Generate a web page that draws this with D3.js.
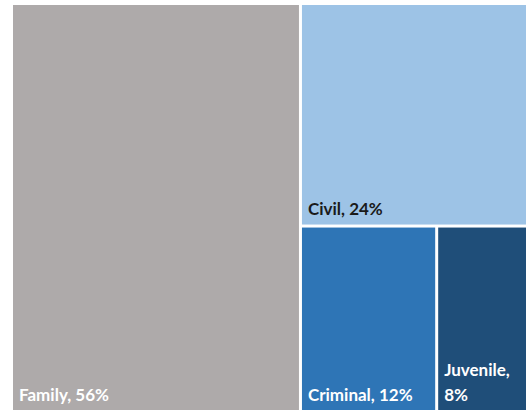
<!DOCTYPE html>
<html>
<head>
<meta charset="utf-8">
<script src="https://cdn.jsdelivr.net/npm/d3@7"></script>
<style>
  body { margin: 0; background: #fff; }
  svg text { font-family: Lato, "Open Sans", sans-serif; font-weight: bold; }
</style>
</head>
<body>
<div id="chart"></div>
<script>
var categories = ["Family", "Civil", "Criminal", "Juvenile"];
var shares = [56, 24, 12, 8];
var fills = ["#AEAAAA", "#9DC3E6", "#2E75B6", "#1F4E79"];
var textColors = ["#ffffff", "#1a1a1a", "#ffffff", "#ffffff"];
// juvenile label wraps onto two lines like the original
var labelLines = [["Family, 56%"], ["Civil, 24%"], ["Criminal, 12%"], ["Juvenile,", "8%"]];

var width = 530, height = 410;
var padLeft = 13, padTop = 5;

var svg = d3.select("#chart").append("svg")
    .attr("width", width)
    .attr("height", height);

function leaf(i){ return {name: categories[i], value: shares[i], idx: i}; }

// nesting reproduces the Excel layout: family | (civil / (criminal | juvenile))
var tree = {children: [
    leaf(0),
    {children: [leaf(1), {children: [leaf(2), leaf(3)]}]}
]};

var root = d3.hierarchy(tree)
    .sum(function(d){ return d.value || 0; });

d3.treemap()
    .tile(d3.treemapSliceDice)
    .size([526 - padLeft, 410 - padTop])
    .paddingInner(3)
    .round(false)(root);

var g = svg.append("g")
    .attr("transform", "translate(" + padLeft + "," + padTop + ")");

var cell = g.selectAll("g.cell")
    .data(root.leaves())
    .enter().append("g")
    .attr("class", "cell");

cell.append("rect")
    .attr("x", function(d){ return d.x0; })
    .attr("y", function(d){ return d.y0; })
    .attr("width", function(d){ return d.x1 - d.x0; })
    .attr("height", function(d){ return d.y1 - d.y0; })
    .style("fill", function(d){ return fills[d.data.idx]; });

cell.each(function(d){
    var lines = labelLines[d.data.idx];
    var c = d3.select(this);
    lines.forEach(function(t, j){
        c.append("text")
            .attr("x", d.x0 + 6)
            .attr("y", d.y1 - 9.5 - (lines.length - 1 - j) * 25)
            .style("font-size", "17px")
            .style("fill", textColors[d.data.idx])
            .text(t);
    });
});
</script>
</body>
</html>
